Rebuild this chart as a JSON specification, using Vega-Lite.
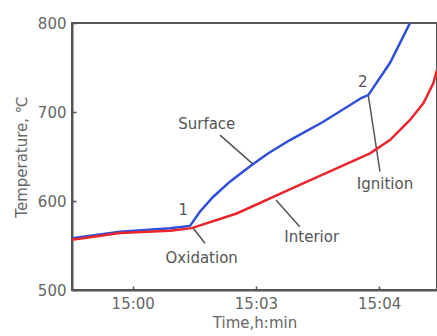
{
  "$schema": "https://vega.github.io/schema/vega-lite/v6.json",
  "width": 365,
  "height": 267,
  "autosize": {"type": "none"},
  "padding": {"left": 72, "top": 23, "right": 0, "bottom": 46},
  "config": {
    "view": {"stroke": "#555", "strokeWidth": 2},
    "font": "DejaVu Sans",
    "axis": {
      "domainColor": "#555",
      "domainWidth": 2,
      "tickColor": "#555",
      "tickWidth": 1.5,
      "tickSize": -4,
      "grid": false,
      "labelFont": "DejaVu Sans",
      "labelFontSize": 15,
      "labelColor": "#666",
      "titleFont": "DejaVu Sans",
      "titleFontSize": 15,
      "titleFontWeight": "normal",
      "titleColor": "#666"
    }
  },
  "datasets": {
    "curves": [
      {"series": "Surface", "t": 0.507, "temp": 558},
      {"series": "Surface", "t": 0.897, "temp": 565.5},
      {"series": "Surface", "t": 1.303, "temp": 569.5},
      {"series": "Surface", "t": 1.465, "temp": 572},
      {"series": "Surface", "t": 1.545, "temp": 588},
      {"series": "Surface", "t": 1.654, "temp": 604.8},
      {"series": "Surface", "t": 1.789, "temp": 621.7},
      {"series": "Surface", "t": 1.966, "temp": 640.4},
      {"series": "Surface", "t": 2.101, "temp": 653.6},
      {"series": "Surface", "t": 2.277, "temp": 668.5},
      {"series": "Surface", "t": 2.547, "temp": 689},
      {"series": "Surface", "t": 2.859, "temp": 716},
      {"series": "Surface", "t": 2.912, "temp": 719},
      {"series": "Surface", "t": 3.088, "temp": 755},
      {"series": "Surface", "t": 3.251, "temp": 800},
      {"series": "Interior", "t": 0.507, "temp": 556.5},
      {"series": "Interior", "t": 0.897, "temp": 564},
      {"series": "Interior", "t": 1.303, "temp": 566.7},
      {"series": "Interior", "t": 1.479, "temp": 569.5},
      {"series": "Interior", "t": 1.844, "temp": 586},
      {"series": "Interior", "t": 2.356, "temp": 618},
      {"series": "Interior", "t": 2.628, "temp": 635},
      {"series": "Interior", "t": 2.926, "temp": 653.6},
      {"series": "Interior", "t": 3.088, "temp": 668.5},
      {"series": "Interior", "t": 3.251, "temp": 691},
      {"series": "Interior", "t": 3.359, "temp": 709.8},
      {"series": "Interior", "t": 3.44, "temp": 732.2},
      {"series": "Interior", "t": 3.47, "temp": 747}
    ],
    "leaders": [
      {"id": "Surface", "t": 1.709, "temp": 674},
      {"id": "Surface", "t": 1.976, "temp": 641.5},
      {"id": "Interior", "t": 2.163, "temp": 601},
      {"id": "Interior", "t": 2.356, "temp": 571},
      {"id": "Oxidation", "t": 1.489, "temp": 570},
      {"id": "Oxidation", "t": 1.586, "temp": 552.5},
      {"id": "Ignition", "t": 2.912, "temp": 719},
      {"id": "Ignition", "t": 3.007, "temp": 633}
    ],
    "labels": [
      {"text": "1", "t": 1.411, "temp": 590},
      {"text": "2", "t": 2.867, "temp": 734},
      {"text": "Surface", "t": 1.601, "temp": 686.5},
      {"text": "Interior", "t": 2.453, "temp": 560},
      {"text": "Oxidation", "t": 1.56, "temp": 536.3},
      {"text": "Ignition", "t": 3.048, "temp": 619}
    ]
  },
  "layer": [
    {
      "data": {"name": "leaders"},
      "mark": {"type": "line", "color": "#555", "strokeWidth": 1.5},
      "encoding": {
        "x": {"field": "t", "type": "quantitative"},
        "y": {"field": "temp", "type": "quantitative"},
        "detail": {"field": "id"}
      }
    },
    {
      "data": {"name": "curves"},
      "mark": {"type": "line", "strokeWidth": 2.5, "clip": true},
      "encoding": {
        "x": {
          "field": "t",
          "type": "quantitative",
          "scale": {"domain": [0.507, 3.47], "nice": false, "zero": false},
          "axis": {
            "title": "Time,h:min",
            "values": [1, 2, 3],
            "labelExpr": "datum.value == 1 ? '15:00' : datum.value == 2 ? '15:03' : '15:04'",
            "labelPadding": 10,
            "titlePadding": 4
          }
        },
        "y": {
          "field": "temp",
          "type": "quantitative",
          "scale": {"domain": [500, 800], "nice": false, "zero": false},
          "axis": {
            "title": "Temperature, ℃",
            "values": [500, 600, 700, 800],
            "labelPadding": 10,
            "titlePadding": 8
          }
        },
        "color": {
          "field": "series",
          "type": "nominal",
          "scale": {"domain": ["Surface", "Interior"], "range": ["#2f4fd8", "#e8262c"]},
          "legend": null
        }
      }
    },
    {
      "data": {"name": "labels"},
      "mark": {"type": "text", "fontSize": 15, "color": "#555", "font": "DejaVu Sans", "baseline": "middle", "align": "center"},
      "encoding": {
        "x": {"field": "t", "type": "quantitative"},
        "y": {"field": "temp", "type": "quantitative"},
        "text": {"field": "text"}
      }
    }
  ]
}
